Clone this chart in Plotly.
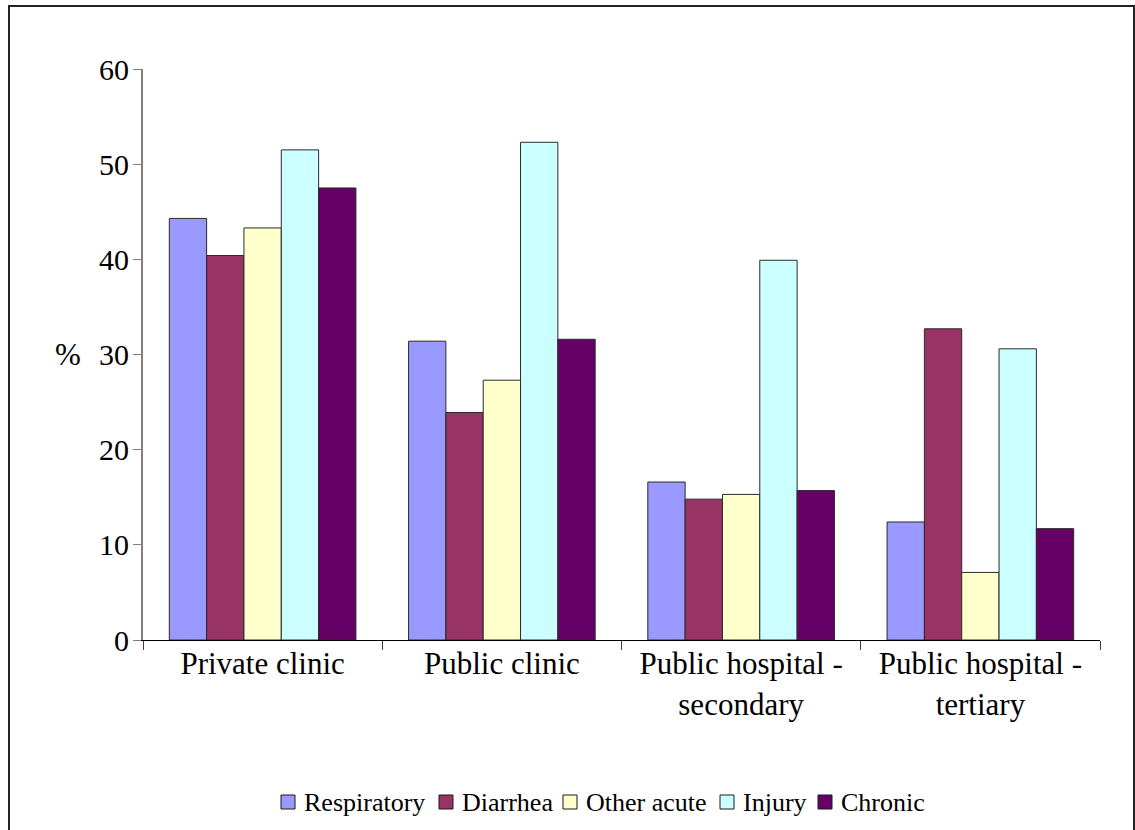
import plotly.graph_objects as go

categories = ["Private clinic", "Public clinic", "Public hospital -<br>secondary", "Public hospital -<br>tertiary"]
series_names = ["Respiratory", "Diarrhea", "Other acute", "Injury", "Chronic"]
respiratory = [44.3, 31.4, 16.6, 12.4]
diarrhea = [40.4, 23.9, 14.8, 32.7]
other_acute = [43.3, 27.3, 15.3, 7.1]
injury = [51.5, 52.3, 39.9, 30.6]
chronic = [47.5, 31.6, 15.7, 11.7]
colors = ["#9999FF", "#993366", "#FFFFCC", "#CCFFFF", "#660066"]
y_ticks = [0, 10, 20, 30, 40, 50, 60]

FONT = "Liberation Serif, Times New Roman, serif"

fig = go.Figure()
for name, vals, col in zip(series_names, [respiratory, diarrhea, other_acute, injury, chronic], colors):
    fig.add_trace(go.Bar(
        name=name, x=categories, y=vals,
        marker=dict(color=col, line=dict(color="#2a2a2a", width=1)),
        showlegend=False,
    ))

W, H = 1135, 830
L, R, T, B = 143, 35, 69, 190
pw, ph = W - L - R, H - T - B


def px_x(p):
    return (p - L) / pw


def px_y(p):
    return (H - B - p) / ph


# manual legend (box left edges in pixels)
legend_box_x = [281, 439, 563, 720, 818]
legend_y = 802
box = 14
shapes = []
annotations = []
for name, col, bx in zip(series_names, colors, legend_box_x):
    shapes.append(dict(type="rect", xref="paper", yref="paper",
                       x0=px_x(bx), x1=px_x(bx + box), y0=px_y(legend_y + box / 2), y1=px_y(legend_y - box / 2),
                       line=dict(color="#1a1a1a", width=1), fillcolor=col))
    annotations.append(dict(text=name, xref="paper", yref="paper", x=px_x(bx + box + 7), y=px_y(legend_y),
                            xanchor="left", yanchor="middle", showarrow=False,
                            font=dict(family=FONT, size=26, color="black")))

annotations.append(dict(text="%", xref="paper", yref="y", x=0, y=30, xanchor="right", yanchor="middle",
                        xshift=-60, showarrow=False, font=dict(family=FONT, size=31, color="black")))

shapes.append(dict(type="rect", xref="paper", yref="paper",
                   x0=px_x(9), x1=px_x(1134), y0=px_y(840), y1=px_y(6),
                   line=dict(color="#222222", width=2), fillcolor="rgba(0,0,0,0)", layer="below"))

fig.update_layout(
    width=W, height=H,
    margin=dict(l=L, r=R, t=T, b=B, pad=0),
    paper_bgcolor="white", plot_bgcolor="white",
    barmode="group", bargap=0.22, bargroupgap=0,
    font=dict(family=FONT, color="black"),
    showlegend=False,
    xaxis=dict(showline=True, linecolor="black", linewidth=1, ticks="outside", tickson="boundaries",
               ticklen=9, tickcolor="#404040", tickfont=dict(family=FONT, size=31, color="black"),
               showgrid=False, zeroline=False, ticklabelstandoff=-4),
    yaxis=dict(range=[0, 60], tickvals=y_ticks, showline=True, linecolor="#808080", linewidth=2,
               ticks="outside", ticklen=8, tickcolor="#808080", tickfont=dict(family=FONT, size=30, color="black"),
               showgrid=False, zeroline=False, ticklabelstandoff=-2),
    annotations=annotations,
    shapes=shapes,
)

fig.write_html("out.html")
